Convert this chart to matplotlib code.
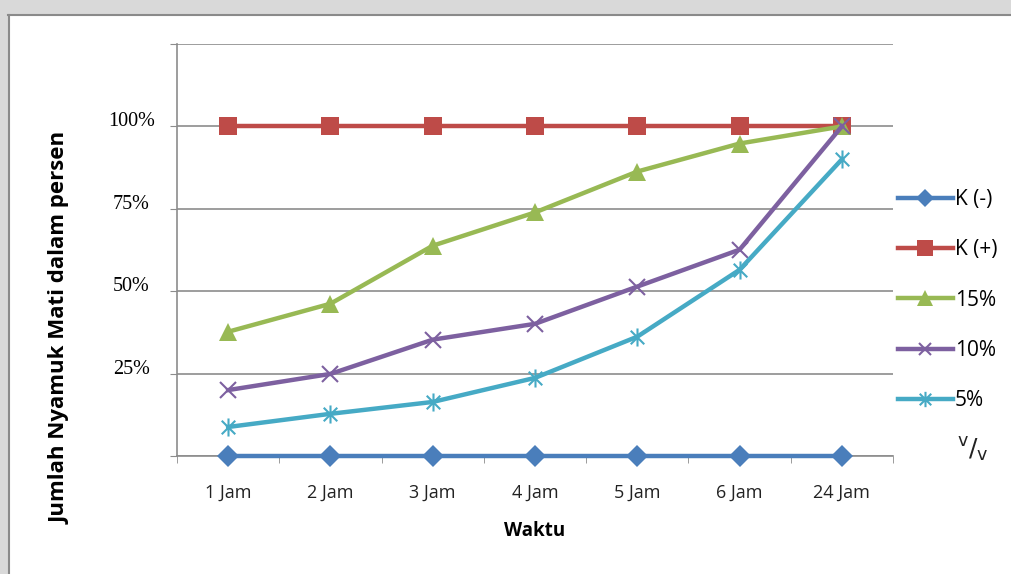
import numpy as np
import matplotlib.pyplot as plt
from matplotlib.patches import Rectangle
from matplotlib.lines import Line2D
from matplotlib.path import Path
from matplotlib.transforms import ScaledTranslation

# data (fraction of mosquitoes dead)
waktu = ["1 Jam", "2 Jam", "3 Jam", "4 Jam", "5 Jam", "6 Jam", "24 Jam"]
k_neg = [0, 0, 0, 0, 0, 0, 0]
k_pos = [1.0, 1.0, 1.0, 1.0, 1.0, 1.0, 1.0]
c15 = [0.377, 0.462, 0.638, 0.739, 0.863, 0.948, 1.0]
c10 = [0.20, 0.249, 0.353, 0.401, 0.514, 0.626, 1.0]
c5 = [0.088, 0.128, 0.164, 0.237, 0.362, 0.565, 0.90]
y_ticks = [0, 0.25, 0.5, 0.75, 1.0, 1.25]
y_labels = ["", "25%", "50%", "75%", "100%", ""]

# excel-style star: an x with a vertical bar through it
star = Path([(0, -1), (0, 1), (-0.75, -0.75), (0.75, 0.75), (-0.75, 0.75), (0.75, -0.75)],
            [Path.MOVETO, Path.LINETO] * 3)

SERIES = [
    ("K (-)", k_neg, dict(color="#4A7EBB", marker="D", ms=11, mew=0)),
    ("K (+)", k_pos, dict(color="#BE4B48", marker="s", ms=13, mew=0)),
    ("15%", c15, dict(color="#98B954", marker="^", ms=13, mew=0)),
    ("10%", c10, dict(color="#7D60A0", marker="x", ms=11, mew=1.5)),
    ("5%", c5, dict(color="#46AAC5", marker=star, ms=13, mew=1.5)),
]

W, H = 1011, 574
fig = plt.figure(figsize=(W / 100, H / 100), dpi=100)
fig.patch.set_facecolor("white")

# scanned page frame
fig.add_artist(Rectangle((0, 1 - 14 / H), 1, 14 / H, transform=fig.transFigure,
                         facecolor="#D9D9D9", edgecolor="none", zorder=0))
fig.add_artist(Rectangle((0, 0), 8 / W, 1, transform=fig.transFigure,
                         facecolor="#D9D9D9", edgecolor="none", zorder=0))
fig.add_artist(Line2D([8 / W, 1], [1 - 14.5 / H] * 2, transform=fig.transFigure,
                      color="#8A8A8A", lw=1.5))
fig.add_artist(Line2D([9 / W] * 2, [0, 1 - 14.5 / H], transform=fig.transFigure,
                      color="#8A8A8A", lw=1.5))

ax = fig.add_axes([177 / W, 1 - 456 / H, (893 - 177) / W, (456 - 44) / H])
x = np.arange(len(waktu))
for name, vals, st in SERIES:
    ax.plot(x, vals, label=name, color=st["color"], lw=3.2, marker=st["marker"],
            markersize=st["ms"], markeredgewidth=st["mew"], markeredgecolor=st["color"],
            clip_on=False, zorder=3)

ax.set_xlim(-0.5, len(waktu) - 0.5)
ax.set_ylim(0, 1.25)
ax.set_yticks(y_ticks)
ax.set_yticklabels(y_labels, family="Liberation Serif", fontsize=14.5, ha="center")
ax.tick_params(axis="y", length=5, color="#8C8C8C", pad=28)
off = ScaledTranslation(0, 5 / 72, fig.dpi_scale_trans)
for lbl in ax.get_yticklabels():
    lbl.set_transform(lbl.get_transform() + off)

ax.set_xticks(x)
ax.set_xticklabels(waktu, family="Open Sans", fontsize=13, color="#222222")
ax.set_xticks(np.arange(-0.5, len(waktu)), minor=True)
ax.tick_params(axis="x", which="major", length=0, pad=20)
ax.tick_params(axis="x", which="minor", length=5, color="#8C8C8C")

ax.grid(axis="y", color="#8C8C8C", lw=1.2)
ax.set_axisbelow(True)
for s in ["top", "right"]:
    ax.spines[s].set_visible(False)
for s in ["left", "bottom"]:
    ax.spines[s].set_color("#8C8C8C")
    ax.spines[s].set_linewidth(1.2)

ax.set_xlabel("Waktu", family="Open Sans", fontweight="bold", fontsize=13.5, labelpad=14)
fig.text(60 / W, 1 - 328 / H, "Jumlah Nyamuk Mati dalam persen", rotation=90,
         ha="center", va="center", family="Open Sans", fontweight="bold", fontsize=16)

leg = ax.legend(loc="upper left", bbox_to_anchor=(890 / W, 1 - 181 / H),
                bbox_transform=fig.transFigure, frameon=False,
                prop={"family": "Open Sans", "size": 15}, handlelength=2.6,
                handletextpad=0.1, labelspacing=1.4, borderaxespad=0,
                markerscale=0.85)
fig.text(973 / W, 1 - 450 / H, r"$^{\mathsf{v}}/_{\mathsf{v}}$", ha="center",
         va="center", fontsize=18, color="#222222")

fig.savefig("out.png", dpi=100)
